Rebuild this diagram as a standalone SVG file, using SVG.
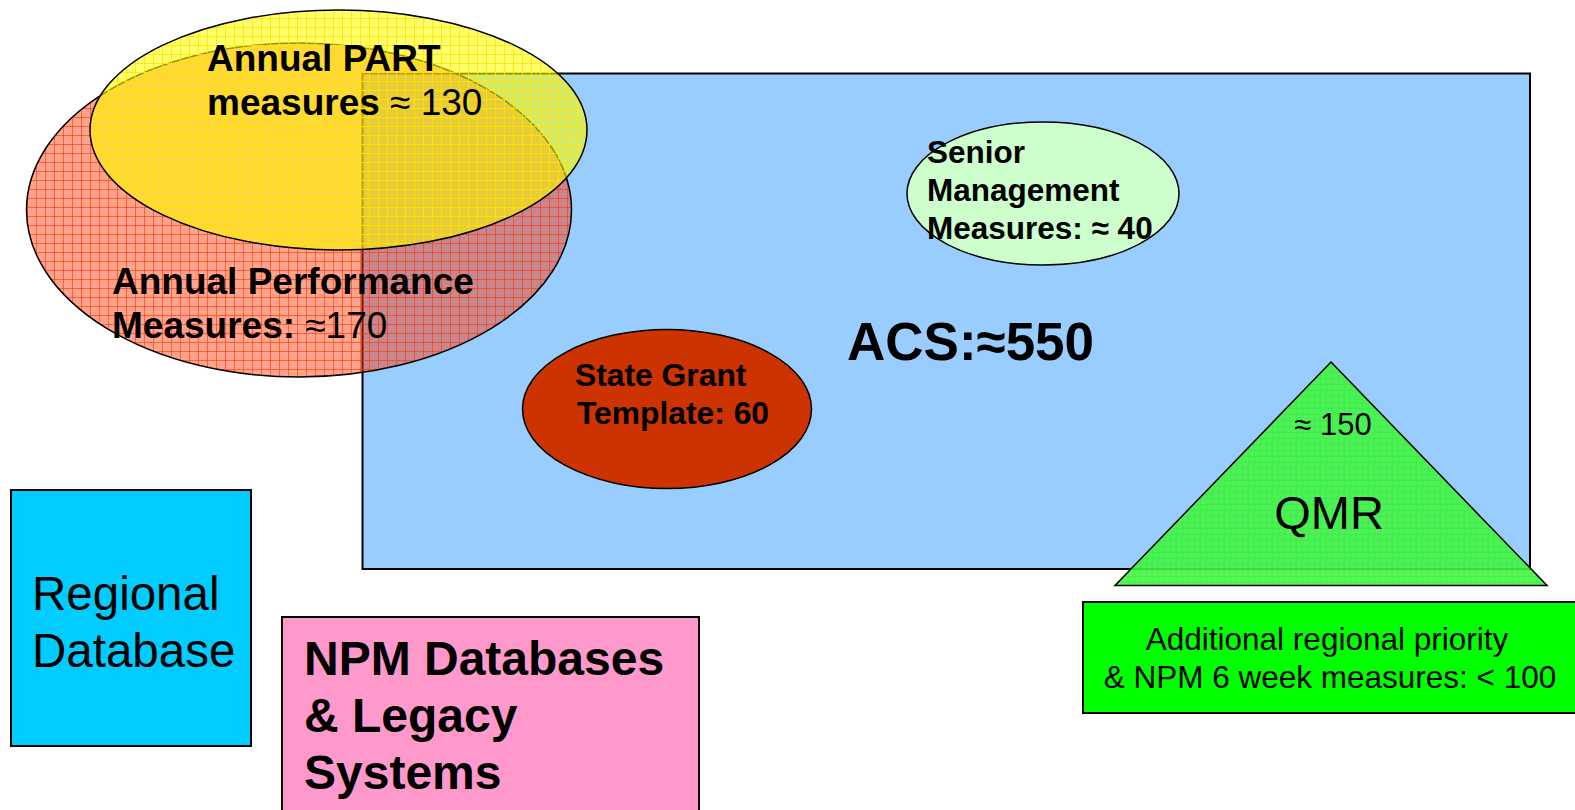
<svg xmlns="http://www.w3.org/2000/svg" width="1575" height="810" viewBox="0 0 1575 810">
<defs>
<pattern id="redGrid" patternUnits="userSpaceOnUse" width="9" height="9">
<rect width="9" height="9" fill="#FF3300" fill-opacity="0.45"/>
<path d="M0 0.5H9M0.5 0V9" stroke="#FF3300" stroke-opacity="0.6" stroke-width="1" fill="none"/>
</pattern>
<pattern id="yellowGrid" patternUnits="userSpaceOnUse" width="9" height="9">
<rect width="9" height="9" fill="#FFFF00" fill-opacity="0.58"/>
<path d="M0 0.5H9M0.5 0V9" stroke="#FFE800" stroke-opacity="0.85" stroke-width="1" fill="none"/>
</pattern>
<pattern id="greenGrid" patternUnits="userSpaceOnUse" width="6" height="6">
<rect width="6" height="6" fill="#4CEE4C"/>
<path d="M0 0.5H6M0.5 0V6" stroke="#22FF22" stroke-width="1" fill="none"/>
</pattern>
</defs>
<style>
.b{font-family:"Liberation Sans",Arial,sans-serif;font-weight:bold;fill:#000}
.r{font-family:"Liberation Sans",Arial,sans-serif;font-weight:normal;fill:#000}
.n{font-weight:normal}
.edge{stroke:#000;stroke-width:2}
.thin{stroke:#000;stroke-width:1.5}
</style>
<rect width="1575" height="810" fill="#fff"/>

<g id="acs">
<rect x="362.5" y="73.5" width="1167.5" height="495.5" fill="#99CCFF" class="edge"/>
<text class="b" x="847" y="360" font-size="53">ACS:≈550</text>
</g>

<g id="annual-performance">
<ellipse cx="299" cy="210" rx="272.5" ry="167" fill="url(#redGrid)" class="thin"/>
<text class="b" font-size="37"><tspan x="112" y="294">Annual Performance</tspan><tspan x="112" y="338">Measures:<tspan class="n"> ≈170</tspan></tspan></text>
</g>

<g id="annual-part">
<ellipse cx="338.5" cy="130" rx="248.5" ry="120" fill="url(#yellowGrid)" class="thin"/>
<text class="b" font-size="37"><tspan x="207" y="71">Annual PART</tspan><tspan x="207" y="115">measures <tspan class="n">≈ 130</tspan></tspan></text>
</g>

<g id="senior-management">
<ellipse cx="1043" cy="193.5" rx="136" ry="71.5" fill="#CCFFCC" class="thin"/>
<text class="b" font-size="31.5"><tspan x="927" y="163">Senior</tspan><tspan x="927" y="201">Management</tspan><tspan x="927" y="239">Measures: ≈ 40</tspan></text>
</g>

<g id="state-grant">
<ellipse cx="667" cy="409" rx="144.5" ry="79.5" fill="#CC3300" class="thin"/>
<text class="b" font-size="31.8"><tspan x="575" y="386">State Grant</tspan><tspan x="577" y="424">Template: 60</tspan></text>
</g>

<g id="qmr">
<polygon points="1331,362 1547,585.5 1115,585.5" fill="url(#greenGrid)" fill-opacity="0.9" class="thin"/>
<text class="r" x="1333" y="435" font-size="31" text-anchor="middle">≈ 150</text>
<text class="r" x="1329" y="529" font-size="47" text-anchor="middle">QMR</text>
</g>

<g id="additional-measures">
<rect x="1083" y="602" width="500" height="111" fill="#00FF00" class="edge"/>
<text class="r" font-size="31.5" text-anchor="middle"><tspan x="1327" y="650">Additional regional priority</tspan><tspan x="1330" y="688">&amp; NPM 6 week measures: &lt; 100</tspan></text>
</g>

<g id="regional-database">
<rect x="11" y="490" width="240" height="256" fill="#00CCFF" class="edge"/>
<text class="r" font-size="47.5"><tspan x="32" y="610">Regional</tspan><tspan x="32" y="667">Database</tspan></text>
</g>

<g id="npm-databases">
<rect x="282" y="617" width="417" height="210" fill="#FF99CC" class="edge"/>
<text class="b" font-size="48"><tspan x="304" y="675">NPM Databases</tspan><tspan x="304" y="732">&amp; Legacy</tspan><tspan x="304" y="789">Systems</tspan></text>
</g>

<g id="connectors"/>
</svg>
